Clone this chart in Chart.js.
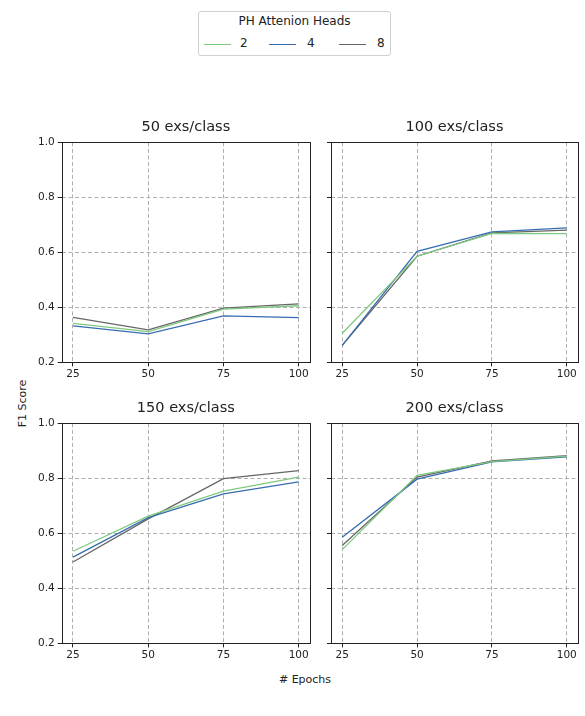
<!DOCTYPE html>
<html>
<head>
<meta charset="utf-8">
<script src="https://cdn.jsdelivr.net/npm/chart.js@4/dist/chart.umd.min.js"></script>
<style>
  body { margin: 0; background: #fff; font-family: "DejaVu Sans", sans-serif; }
  #wrap { position: relative; width: 585px; height: 716px; }
  .cv { position: absolute; }
  #legend { position: absolute; left: 198px; top: 11px; width: 191px; height: 43px;
    border: 1px solid #d0d0d0; border-radius: 3px; font-size: 12px; color: #222; }
  #legend .ttl { position: absolute; top: 2px; left: 0; width: 100%; text-align: center; }
  #legend .ln { position: absolute; top: 32px; width: 27px; height: 1.4px; }
  #legend .lab { position: absolute; top: 24px; }
  #ylab { position: absolute; left: 22px; top: 404px; width: 80px; margin-left: -40px; margin-top: -7px;
    transform: rotate(-90deg); font-size: 11px; color: #222; text-align: center; }
  #xlab { position: absolute; left: 265px; top: 673px; width: 80px; text-align: center; font-size: 11px; color: #222; }
</style>
</head>
<body>
<div id="wrap">
  <div id="legend">
    <div class="ttl">PH Attenion Heads</div>
    <div class="ln" style="left:5px;background:#7fc97f"></div><div class="lab" style="left:41px">2</div>
    <div class="ln" style="left:70px;background:#386cb0"></div><div class="lab" style="left:108px">4</div>
    <div class="ln" style="left:140px;background:#666666"></div><div class="lab" style="left:178px">8</div>
  </div>
  <canvas id="c0" class="cv"></canvas>
  <canvas id="c1" class="cv"></canvas>
  <canvas id="c2" class="cv"></canvas>
  <canvas id="c3" class="cv"></canvas>
  <div id="ylab">F1 Score</div>
  <div id="xlab"># Epochs</div>
</div>
<script>
const epochs = [25, 50, 75, 100];
const titles = ["50 exs/class", "100 exs/class", "150 exs/class", "200 exs/class"];
const heads = ["2", "4", "8"];
const colors = ["#7fc97f", "#386cb0", "#666666"];
const yTicks = [0.2, 0.4, 0.6, 0.8, 1.0];

// F1 per panel, one array per head count (2, 4, 8)
const f1_50 = [[0.342, 0.312, 0.394, 0.406], [0.333, 0.304, 0.369, 0.363], [0.364, 0.318, 0.397, 0.413]];
const f1_100 = [[0.306, 0.586, 0.669, 0.668], [0.262, 0.604, 0.675, 0.689], [0.262, 0.586, 0.671, 0.681]];
const f1_150 = [[0.535, 0.663, 0.754, 0.805], [0.514, 0.657, 0.744, 0.787], [0.496, 0.653, 0.799, 0.828]];
const f1_200 = [[0.541, 0.811, 0.861, 0.881], [0.586, 0.797, 0.860, 0.878], [0.556, 0.805, 0.864, 0.883]];
const panels = [f1_50, f1_100, f1_150, f1_200];

// canvas boxes: left, top, width, height
const boxes = [
  [35, 119, 281, 264],
  [327, 119, 257, 264],
  [35, 400, 281, 264],
  [327, 400, 257, 264]
];

const frame = {
  id: "frame",
  afterDraw(chart) {
    const a = chart.chartArea, ctx = chart.ctx;
    ctx.save();
    ctx.strokeStyle = "#222";
    ctx.lineWidth = 1;
    ctx.strokeRect(Math.round(a.left) + 0.5, Math.round(a.top) + 0.5, Math.round(a.right - a.left), Math.round(a.bottom - a.top));
    ctx.restore();
  }
};

const gridOpts = { color: "#b0b0b0", borderDash: [4, 2.5], tickColor: "#222", tickLength: 4, tickBorderDash: [] };

panels.forEach((data, i) => {
  const cv = document.getElementById("c" + i);
  const b = boxes[i];
  cv.style.left = b[0] + "px";
  cv.style.top = b[1] + "px";
  cv.width = b[2];
  cv.height = b[3];
  const showY = i % 2 === 0;
  new Chart(cv, {
    type: "line",
    data: {
      datasets: data.map((vals, k) => ({
        label: heads[k],
        data: vals.map((v, j) => ({ x: epochs[j], y: v })),
        borderColor: colors[k],
        borderWidth: 1.3,
        pointRadius: 0,
        tension: 0
      }))
    },
    options: {
      responsive: false,
      animation: false,
      layout: { padding: { left: 0, right: 6, top: 0, bottom: 0 } },
      plugins: {
        legend: { display: false },
        tooltip: { enabled: false },
        title: { display: true, fullSize: false, text: titles[i], color: "#222", font: { size: 14.5, family: "DejaVu Sans", weight: "normal" }, padding: { top: 0, bottom: 6 } }
      },
      scales: {
        x: {
          type: "linear", min: 21.25, max: 103.75,
          afterBuildTicks: s => { s.ticks = epochs.map(v => ({ value: v })); },
          ticks: { color: "#222", font: { size: 10.5, family: "DejaVu Sans" }, padding: 2, maxRotation: 0 },
          grid: gridOpts,
          border: { display: false, dash: [4, 2.5] }
        },
        y: {
          min: 0.2, max: 1.0,
          afterBuildTicks: s => { s.ticks = yTicks.map(v => ({ value: v })); },
          ticks: { display: showY, color: "#222", font: { size: 10.5, family: "DejaVu Sans" }, padding: 3, callback: v => v.toFixed(1) },
          grid: gridOpts,
          border: { display: false, dash: [4, 2.5] }
        }
      }
    },
    plugins: [frame]
  });
});
</script>
</body>
</html>
